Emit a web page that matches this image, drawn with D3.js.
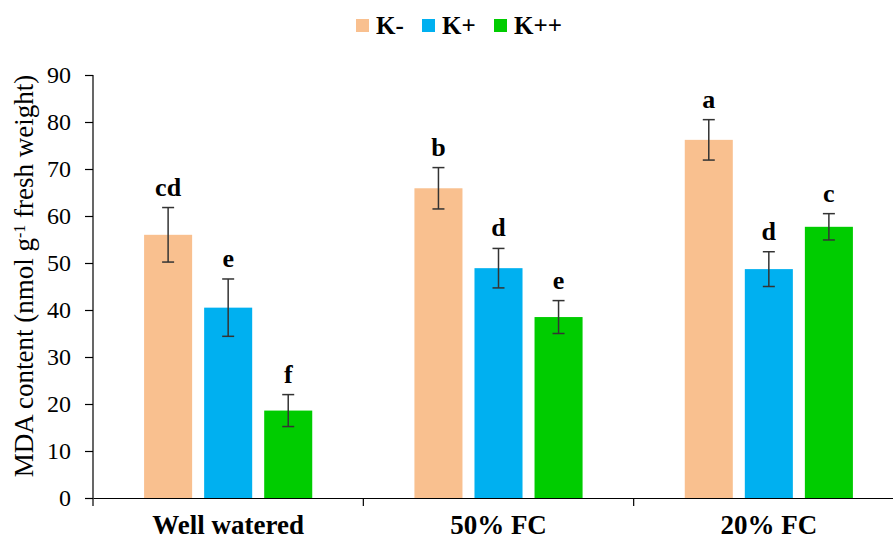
<!DOCTYPE html>
<html>
<head>
<meta charset="utf-8">
<script src="https://cdn.jsdelivr.net/npm/d3@7"></script>
<style>
  body { margin: 0; background: #fff; }
  svg { display: block; }
  text { font-family: "Liberation Serif", "Times New Roman", serif; fill: #000; }
</style>
</head>
<body>
<svg id="chart" width="893" height="541"></svg>
<script>
const categories = ["Well watered", "50% FC", "20% FC"];
const seriesNames = ["K-", "K+", "K++"];
const seriesColors = ["#F9C08F", "#00B0F0", "#00CC00"];
const kMinus = [56.0, 65.9, 76.2];
const kPlus = [40.5, 48.9, 48.7];
const kPlusPlus = [18.6, 38.5, 57.7];
const errKMinus = [5.8, 4.4, 4.3];
const errKPlus = [6.1, 4.2, 3.7];
const errKPlusPlus = [3.4, 3.5, 2.8];
const lettersKMinus = ["cd", "b", "a"];
const lettersKPlus = ["e", "d", "d"];
const lettersKPlusPlus = ["f", "e", "c"];
const yTicks = [0, 10, 20, 30, 40, 50, 60, 70, 80, 90];

const values = [kMinus, kPlus, kPlusPlus];
const errors = [errKMinus, errKPlus, errKPlusPlus];
const letters = [lettersKMinus, lettersKPlus, lettersKPlusPlus];

const rows = [];
categories.forEach((c, ci) => {
  seriesNames.forEach((s, si) => {
    rows.push({cat: c, ser: s, si, v: values[si][ci], e: errors[si][ci], l: letters[si][ci]});
  });
});

const svg = d3.select("#chart");
const pLeft = 93, pRight = 904, pTop = 75, pBottom = 498;
const serif = "'Liberation Serif', 'Times New Roman', serif";

const x0 = d3.scaleBand().domain(categories).range([pLeft, pRight]).padding(0);
const bw = x0.bandwidth();
const groupW = bw * 0.622;
const x1 = d3.scaleBand().domain(seriesNames)
  .range([(bw - groupW) / 2, (bw + groupW) / 2]).paddingInner(0.2).paddingOuter(0);
const y = d3.scaleLinear().domain([0, 90]).range([pBottom, pTop]);
const color = d3.scaleOrdinal().domain(seriesNames).range(seriesColors);

// Y axis
const yAxis = svg.append("g").attr("transform", `translate(${pLeft},0)`)
  .call(d3.axisLeft(y).tickValues(yTicks).tickSize(8).tickPadding(14).tickFormat(d3.format("d")));
yAxis.attr("font-family", serif);
yAxis.selectAll("path, line").attr("stroke", "#000").attr("stroke-width", 1.2);
yAxis.select(".domain").attr("d", `M0,${pTop}V${pBottom}`);
yAxis.selectAll("text").style("font-size", "24px").style("font-family", serif).attr("fill", "#000");

// X axis
const xAxis = svg.append("g").attr("transform", `translate(0,${pBottom})`)
  .call(d3.axisBottom(x0).tickValues([]).tickSizeOuter(0));
xAxis.attr("font-family", serif);
xAxis.select(".domain").attr("stroke", "#000").attr("stroke-width", 1.2);
const bounds = categories.map(c => x0(c)).concat([pRight]);
xAxis.selectAll("line.sep").data(bounds).join("line").attr("class", "sep")
  .attr("x1", d => d).attr("x2", d => d).attr("y1", 0).attr("y2", 8)
  .attr("stroke", "#000").attr("stroke-width", 1.2);
xAxis.selectAll("text.cat").data(categories).join("text").attr("class", "cat")
  .attr("x", d => x0(d) + bw / 2).attr("y", 36)
  .attr("text-anchor", "middle").style("font-size", "27px").style("font-weight", "bold")
  .style("font-family", serif).attr("fill", "#000")
  .text(d => d);

// Bars
const g = svg.append("g");
g.selectAll("rect.bar").data(rows).join("rect").attr("class", "bar")
  .attr("x", d => x0(d.cat) + x1(d.ser))
  .attr("width", x1.bandwidth())
  .attr("y", d => y(d.v))
  .attr("height", d => y(0) - y(d.v))
  .attr("fill", d => color(d.ser));

// Error bars
const cx = d => x0(d.cat) + x1(d.ser) + x1.bandwidth() / 2;
const eb = g.selectAll("g.err").data(rows).join("g").attr("class", "err")
  .attr("stroke", "#333").attr("stroke-width", 1.5);
eb.append("line").attr("x1", cx).attr("x2", cx).attr("y1", d => y(d.v + d.e)).attr("y2", d => y(d.v - d.e));
eb.append("line").attr("x1", d => cx(d) - 6).attr("x2", d => cx(d) + 6).attr("y1", d => y(d.v + d.e)).attr("y2", d => y(d.v + d.e));
eb.append("line").attr("x1", d => cx(d) - 6).attr("x2", d => cx(d) + 6).attr("y1", d => y(d.v - d.e)).attr("y2", d => y(d.v - d.e));

// Letters
g.selectAll("text.lt").data(rows).join("text").attr("class", "lt")
  .attr("x", cx).attr("y", d => y(d.v + d.e) - 12)
  .attr("text-anchor", "middle").style("font-size", "26px").style("font-weight", "bold")
  .style("font-family", serif)
  .text(d => d.l);

// Y title
const yt = svg.append("text")
  .attr("transform", "translate(33,276) rotate(-90)")
  .attr("text-anchor", "middle").style("font-size", "27px").style("font-family", serif);
yt.append("tspan").text("MDA content (nmol g");
yt.append("tspan").attr("baseline-shift", "super").style("font-size", "16px").text("-1");
yt.append("tspan").text(" fresh weight)");

// Legend
const legendX = [356, 422, 494];
const lg = svg.append("g").selectAll("g").data(seriesNames).join("g")
  .attr("transform", (d, i) => `translate(${legendX[i]},19)`);
lg.append("rect").attr("width", 13).attr("height", 13).attr("fill", d => color(d));
lg.append("text").attr("x", 20).attr("y", 15).style("font-size", "25px").style("font-weight", "bold")
  .style("font-family", serif).text(d => d);
</script>
</body>
</html>
